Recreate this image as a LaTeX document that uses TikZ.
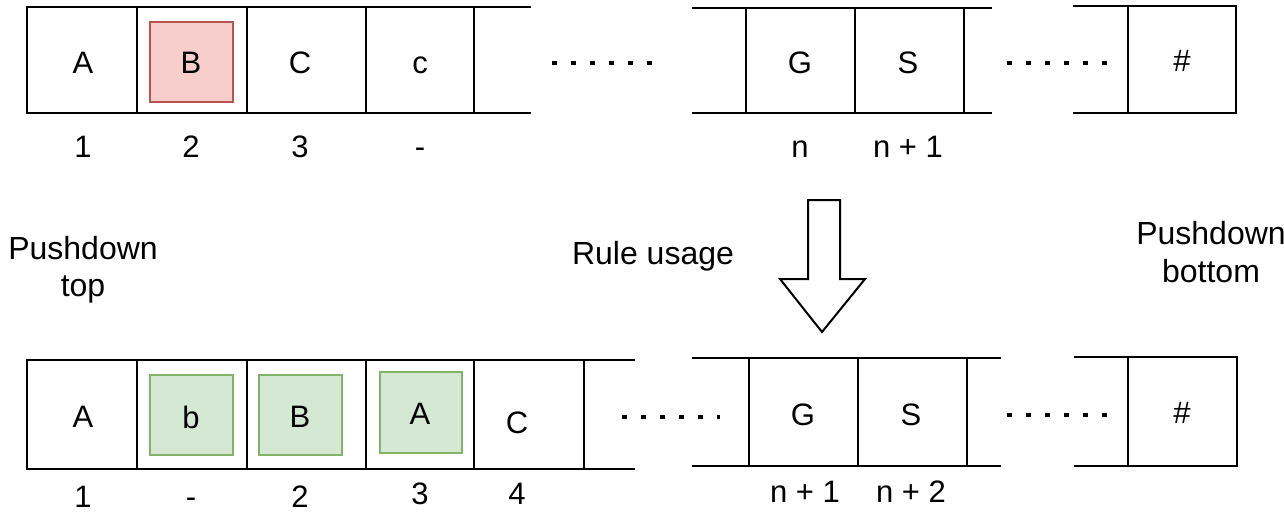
\documentclass[tikz,border=0pt]{standalone}
\usepackage{fontspec}
\setmainfont{Liberation Sans}
\definecolor{redfill}{HTML}{F8CECC}
\definecolor{reddraw}{HTML}{B85450}
\definecolor{greenfill}{HTML}{D5E8D4}
\definecolor{greendraw}{HTML}{82B366}
\begin{document}
\begin{tikzpicture}[x=1pt,y=-1pt,
  strip/.style={line width=2pt,line cap=rect},
  lbl/.style={font=\fontsize{31}{37}\selectfont,inner sep=0pt},
  txt/.style={font=\fontsize{32}{37}\selectfont,align=center,inner sep=0pt},
  redbox/.style={fill=redfill,draw=reddraw,line width=2pt},
  greenbox/.style={fill=greenfill,draw=greendraw,line width=2pt},
  dots/.style={line width=4.5pt,dash pattern=on 4.5pt off 14.5pt}]
\useasboundingbox (0,0) rectangle (1284,524);
% ---------- top row ----------
\draw[redbox] (150,22) rectangle (233,102);
\draw[strip] (530,7) -- (27,7) -- (27,113) -- (530,113);
\foreach \x in {137,247,366,474} \draw[strip] (\x,7) -- (\x,113);
\draw[strip] (693,8) -- (991,8) (693,113) -- (991,113);
\foreach \x in {746,855,964} \draw[strip] (\x,8) -- (\x,113);
\draw[strip] (1074,6) -- (1236,6) -- (1236,113) -- (1074,113);
\draw[strip] (1128,6) -- (1128,113);
\node[lbl] (tA) at (83,63) {A};
\node[lbl] (tB) at (191,63) {B};
\node[lbl] (tC) at (300,63) {C};
\node[lbl] (tc) at (420,65) {c};
\node[lbl] (tG) at (800,63) {G};
\node[lbl] (tS) at (908,63) {S};
\node[lbl] (th) at (1182,61) {\#};
\draw[dots] (552,63) -- (662,63);
\draw[dots] (1007,63) -- (1120,63);
\node[lbl] (t1) at (83,147) {1};
\node[lbl] (t2) at (191,147) {2};
\node[lbl] (t3) at (300,147) {3};
\node[lbl] (t4) at (420,147) {\vphantom{1}-};
\node[lbl] (tn) at (800,149) {n};
\node[lbl] (tn1) at (908,147) {n + 1};
% ---------- middle ----------
\node[txt,font=\fontsize{32}{37}\selectfont] (ptop) at (83,270) {Pushdown\\top};
\node[txt] (rule) at (653,256) {Rule usage};
\node[txt,font=\fontsize{32}{38}\selectfont] (pbot) at (1211,252) {Pushdown\\bottom};
\draw[line width=2pt,line join=miter,fill=white] (808,200) -- (840,200) -- (840,279) -- (865,279) -- (822,332) -- (780,279) -- (808,279) -- cycle;
% ---------- bottom row ----------
\draw[greenbox] (150,375) rectangle (233,455);
\draw[greenbox] (259,375) rectangle (342,455);
\draw[greenbox] (380,372) rectangle (462,453);
\draw[strip] (634,360) -- (27,360) -- (27,469) -- (634,469);
\foreach \x in {137,247,366,474,584} \draw[strip] (\x,360) -- (\x,469);
\draw[strip] (693,358) -- (1000,358) (693,466) -- (1000,466);
\foreach \x in {749,858,967} \draw[strip] (\x,358) -- (\x,466);
\draw[strip] (1075,357) -- (1237,357) -- (1237,466) -- (1075,466);
\draw[strip] (1128,357) -- (1128,466);
\node[lbl] (bA) at (83,417) {A};
\node[lbl] (bb) at (191,417) {b};
\node[lbl] (bB) at (300,417) {B};
\node[lbl] (bA2) at (420,414) {A};
\node[lbl] (bC) at (517,423) {C};
\node[lbl] (bG) at (803,415) {G};
\node[lbl] (bS) at (911,415) {S};
\node[lbl] (bh) at (1182,413) {\#};
\draw[dots] (622,417) -- (720,417);
\draw[dots] (1007,415) -- (1120,415);
\node[lbl] (b1) at (83,497) {1};
\node[lbl] (b2) at (191,497) {\vphantom{1}-};
\node[lbl] (b3) at (300,497) {2};
\node[lbl] (b4) at (420,494) {3};
\node[lbl] (b5) at (517,494) {4};
\node[lbl] (bn1) at (805,492) {n + 1};
\node[lbl] (bn2) at (911,492) {n + 2};
\end{tikzpicture}
\end{document}
